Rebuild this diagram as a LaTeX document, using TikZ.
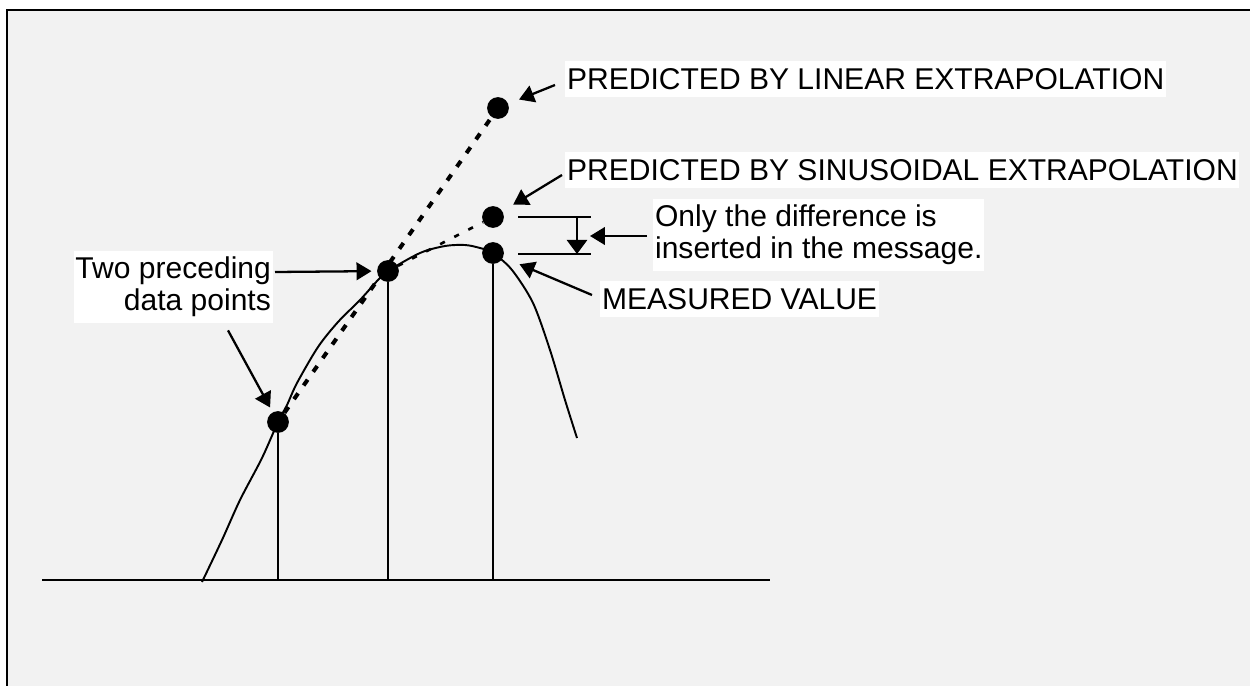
\documentclass[tikz,border=0pt]{standalone}
\usepackage{fontspec}
\setmainfont{Liberation Sans}
\definecolor{panel}{RGB}{242,242,242}
\usetikzlibrary{arrows.meta, positioning, calc}
\newcommand\lblfont{\fontsize{17.1pt}{18.2pt}\selectfont}

\begin{document}
\begin{tikzpicture}[
  x=0.02cm, y=-0.02cm,
  dot/.style={circle, fill=black, inner sep=0pt, minimum size=12.4pt},
  lbl/.style={fill=white, inner sep=1pt, font=\lblfont, text height=15.2pt, text depth=3.7pt},
  lbltwo/.style={fill=white, inner xsep=1pt, inner ysep=0pt, minimum height=41pt, font=\lblfont},
  arr/.style={-{Triangle[length=8.5pt, width=10pt]}, line width=1.3pt},
  diffarr/.style={-{Triangle[length=8pt, width=11.5pt]}, line width=1.3pt},
  rule/.style={line width=1.3pt},
  curve/.style={line width=1.1pt},
  lindash/.style={line width=2.3pt, dash pattern=on 4pt off 5.5pt},
  sindash/.style={line width=1.5pt, dash pattern=on 3pt off 6pt}
]
\useasboundingbox (0,0) rectangle (1250,686);
\fill[panel] (7,10) rectangle (1250,686);
\draw[line width=1.3pt] (1250,10) -- (7,10) -- (7,686);

\coordinate (bl) at (42,580);
\coordinate (br) at (770,580);
\draw[rule] (bl) -- (br);

\draw[curve] plot[smooth, tension=0.5] coordinates {
  (202,582) (222,540) (240,500) (262,458) (278,422) (287,405) (297,383)
  (318,347) (338,322) (360,300) (378,280) (388,271) (420,253) (445,246)
  (465,245) (480,248) (493,253) (512,270) (533,303) (550,350) (565,400) (577,438)};

\node[dot] (p1) at (278,422) {};
\node[dot] (p2) at (388,271) {};
\node[dot] (meas) at (493,253) {};
\node[dot] (sinpt) at (493,217) {};
\node[dot] (linpt) at (498,108) {};

\draw[rule] (p1) -- (p1 |- bl);
\draw[rule] (p2) -- (p2 |- bl);
\draw[rule] (meas) -- (meas |- bl);

\draw[lindash] (p1) -- (linpt);
\draw[sindash] (p2) -- (sinpt);

\coordinate (dtop) at (518,217);
\coordinate (dbot) at (518,254);
\coordinate (dtail) at (577,217);
\coordinate (dhead) at (577,254);
\coordinate (dtip) at (590,236);
\draw[rule] (dtop) -- ++(73,0);
\draw[rule] (dbot) -- ++(73,0);
\draw[diffarr] (dtail) -- (dhead);

\node[lbl, anchor=west] (linlbl) at (565,79) {PREDICTED BY LINEAR EXTRAPOLATION};
\node[lbl, anchor=west] (sinlbl) at (565,170) {PREDICTED BY SINUSOIDAL EXTRAPOLATION};
\node[lbltwo, anchor=west, align=left] (diflbl) at (653,235) {Only the difference is\\inserted in the message.};
\node[lbl, anchor=west] (measlbl) at (600,299) {MEASURED VALUE};
\node[lbltwo, anchor=east, align=right] (twolbl) at (273,287) {Two preceding\\data points};

\draw[arr, shorten >=6.5pt] ([shift={(-10,6)}]linlbl.west) -- (linpt);
\draw[arr, shorten >=7pt] ([shift={(-3,5)}]sinlbl.west) -- (sinpt);
\draw[arr] ([shift={(-6,1)}]diflbl.west) -- (dtip);
\draw[arr, shorten >=10pt] ([shift={(-8,-4)}]measlbl.west) -- (meas);
\draw[arr, shorten >=3pt] ([shift={(2,-15)}]twolbl.east) -- (p2);
\draw[arr, shorten >=3pt] ([shift={(-45,7)}]twolbl.south east) -- (p1);
\end{tikzpicture}
\end{document}
